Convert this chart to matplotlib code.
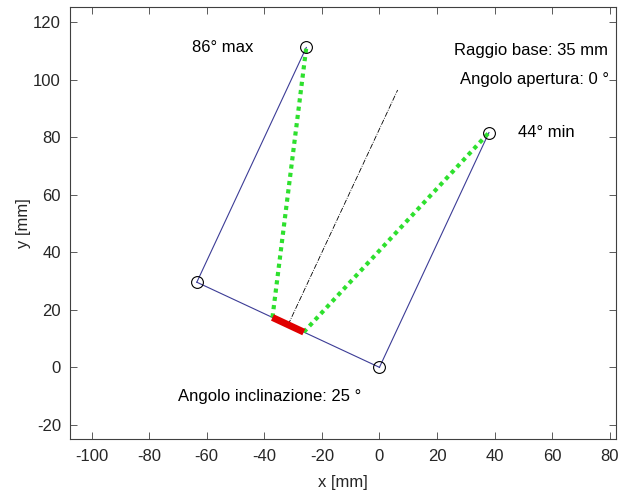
import numpy as np
import matplotlib
matplotlib.use("Agg")
import matplotlib.pyplot as plt

plt.rcParams['font.family'] = ['Liberation Sans', 'DejaVu Sans']
plt.rcParams['axes.unicode_minus'] = False

# Geometry data (mm)
base_x = [0.0, -63.44]
base_y = [0.0, 29.58]
left_arm_x = [-63.44, -25.41]
left_arm_y = [29.58, 111.15]
right_arm_x = [0.0, 38.04]
right_arm_y = [0.0, 81.57]
red_x = [-37.16, -26.28]
red_y = [17.33, 12.25]
green_left_x = [-37.16, -25.41]
green_left_y = [17.33, 111.15]
green_right_x = [-26.28, 38.04]
green_right_y = [12.25, 81.57]
center_line_x = [-31.72, 6.32]
center_line_y = [14.79, 96.36]
circle_x = [0.0, -63.44, -25.41, 38.04]
circle_y = [0.0, 29.58, 111.15, 81.57]

xticks = [-100, -80, -60, -40, -20, 0, 20, 40, 60, 80]
yticks = [-20, 0, 20, 40, 60, 80, 100, 120]

fig = plt.figure(figsize=(6.22, 4.91), dpi=100)
ax = fig.add_axes([0.1125, 0.1059, 0.8775, 0.8798])

line_col = '#3c3c96'
ax.plot(base_x, base_y, color=line_col, lw=0.8)
ax.plot(left_arm_x, left_arm_y, color=line_col, lw=0.8)
ax.plot(right_arm_x, right_arm_y, color=line_col, lw=0.8)
ax.plot(center_line_x, center_line_y, color='black', lw=0.6, ls='-.')
ax.plot(green_left_x, green_left_y, color='#2ee02e', lw=3, ls=(0, (1, 1)))
ax.plot(green_right_x, green_right_y, color='#2ee02e', lw=3, ls=(0, (1, 1)))
ax.plot(red_x, red_y, color='#e00000', lw=5, solid_capstyle='butt')
ax.plot(circle_x, circle_y, ls='none', marker='o', ms=8.5, mfc='none', mec='black', mew=0.8)

fs = 12
ax.text(-65, 111.2, '86° max', fontsize=fs, ha='left', va='center')
ax.text(48, 81.6, '44° min', fontsize=fs, ha='left', va='center')
ax.text(26, 110, 'Raggio base: 35 mm', fontsize=fs, ha='left', va='center')
ax.text(28, 100, 'Angolo apertura: 0 °', fontsize=fs, ha='left', va='center')
ax.text(-70, -10, 'Angolo inclinazione: 25 °', fontsize=fs, ha='left', va='center')

ax.set_xlim(-107.5, 82.1)
ax.set_ylim(-24.9, 125.2)
ax.set_xticks(xticks)
ax.set_yticks(yticks)
ax.tick_params(direction='in', top=True, right=True, length=5, width=0.6,
               labelsize=fs, colors='#404040', labelcolor='#262626')
ax.tick_params(axis='x', pad=7)
ax.tick_params(axis='y', pad=6.5)
for s in ax.spines.values():
    s.set_color('#404040')
    s.set_linewidth(0.8)
ax.set_xlabel('x [mm]', fontsize=fs, color='#262626', labelpad=8)
ax.set_ylabel('y [mm]', fontsize=fs, color='#262626', labelpad=1.5)

fig.savefig('out.png', dpi=100)
